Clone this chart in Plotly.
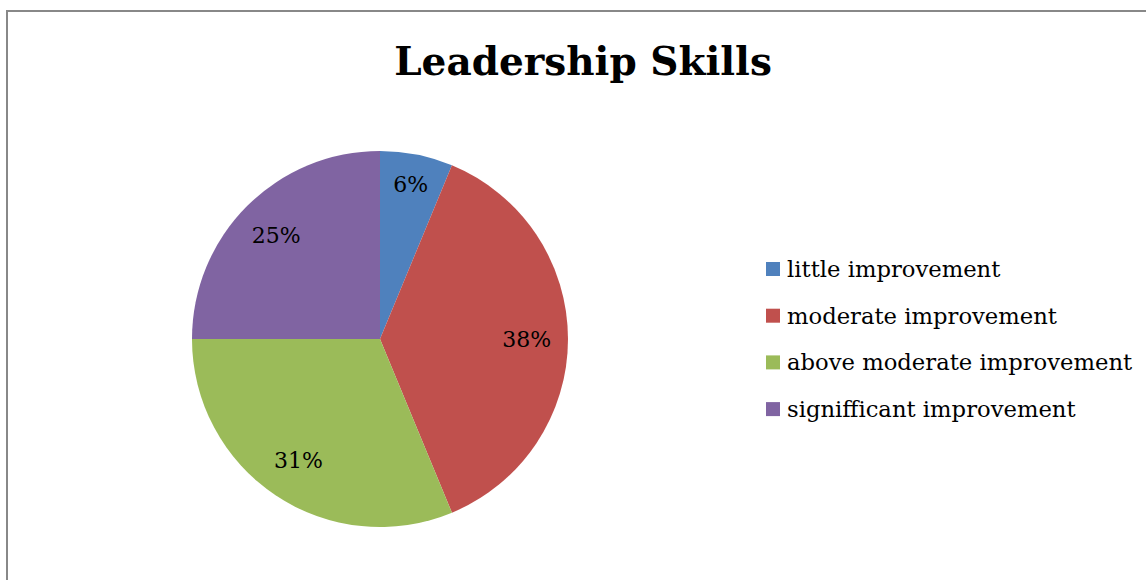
import plotly.graph_objects as go

W, H = 1146, 580

labels = ["little improvement", "moderate improvement", "above moderate improvement", "signifficant improvement"]
values = [1, 6, 5, 4]
colors = ["#4F81BD", "#C0504D", "#9BBB59", "#8064A2"]
title = "Leadership Skills"

FONT = "DejaVu Serif"

cx, cy, r = 380, 339, 188
domain = dict(x=[(cx - r) / W, (cx + r) / W], y=[(H - cy - r) / H, (H - cy + r) / H])

fig = go.Figure()
fig.add_trace(go.Pie(
    labels=labels,
    values=values,
    sort=False,
    direction="clockwise",
    rotation=0,
    marker=dict(colors=colors, line=dict(width=0)),
    textinfo="none",
    showlegend=False,
    hoverinfo="label+percent",
    domain=domain,
))
# transparent ring carrying the percentage labels, so they sit at ~0.78 of the radius
fig.add_trace(go.Pie(
    labels=labels,
    values=values,
    sort=False,
    direction="clockwise",
    rotation=0,
    hole=0.56,
    marker=dict(colors=["rgba(0,0,0,0)"] * len(values), line=dict(width=0)),
    texttemplate="%{percent:.0%}",
    textposition="inside",
    insidetextorientation="horizontal",
    textfont=dict(family=FONT, size=22, color="black"),
    showlegend=False,
    hoverinfo="skip",
    domain=domain,
))

shapes = [dict(type="rect", xref="paper", yref="paper",
               x0=7 / W, x1=1.05, y0=-0.05, y1=1 - 11 / H,
               line=dict(color="#888888", width=2), fillcolor="rgba(0,0,0,0)")]
annotations = []
leg_x, leg_y0, leg_dy, sq = 766, 269, 46.7, 14
for i, (lab, col) in enumerate(zip(labels, colors)):
    yc = leg_y0 + i * leg_dy
    shapes.append(dict(type="rect", xref="paper", yref="paper",
                       x0=leg_x / W, x1=(leg_x + sq) / W,
                       y0=1 - (yc + sq / 2) / H, y1=1 - (yc - sq / 2) / H,
                       fillcolor=col, line=dict(width=0)))
    annotations.append(dict(text=lab, xref="paper", yref="paper",
                            x=(leg_x + sq + 5) / W, y=1 - yc / H,
                            xanchor="left", yanchor="middle", showarrow=False,
                            font=dict(family=FONT, size=22.7, color="black")))

fig.update_layout(
    width=W, height=H,
    margin=dict(l=0, r=0, t=0, b=0),
    paper_bgcolor="white",
    plot_bgcolor="white",
    title=dict(text="<b>" + title + "</b>", x=583 / W, y=1 - 61 / H,
               xanchor="center", yanchor="middle",
               font=dict(family=FONT, size=39, color="black")),
    shapes=shapes,
    annotations=annotations,
)

fig.write_html("out.html")
